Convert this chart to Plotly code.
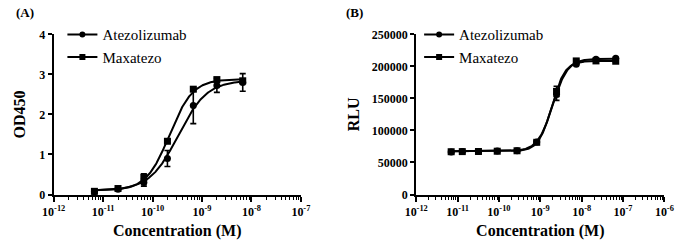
import numpy as np
import plotly.graph_objects as go

# ---------------- Data ----------------
# Panel A (ELISA binding, OD450)
conc_a = [6.67e-12, 2.0e-11, 6.67e-11, 2.0e-10, 6.67e-10, 2.0e-9, 6.67e-9]
ate_a = [0.07, 0.13, 0.30, 0.90, 2.22, 2.72, 2.80]
ate_a_err = [0.02, 0.03, 0.09, 0.20, 0.45, 0.17, 0.22]
max_a = [0.08, 0.15, 0.43, 1.33, 2.63, 2.87, 2.84]
max_a_err = [0.02, 0.03, 0.09, 0.04, 0.05, 0.04, 0.04]
# 4PL fit parameters: bottom, top, EC50, hill
fit_ate_a = [0.10, 2.85, 3.3e-10, 1.5]
fit_max_a = [0.10, 2.88, 2.2e-10, 1.85]

# Panel B (reporter assay, RLU)
conc_b = [7.0e-12, 1.3e-11, 3.2e-11, 9.1e-11, 2.74e-10, 8.2e-10, 2.47e-9, 7.4e-9, 2.22e-8, 6.67e-8]
ate_b = [66500, 67200, 67300, 67800, 68500, 82000, 156000, 203500, 211000, 212500]
ate_b_err = [1200, 1000, 1000, 1000, 1000, 1500, 9000, 2000, 1500, 1500]
max_b = [66800, 67000, 67200, 67600, 68300, 81500, 161000, 208500, 208500, 208000]
max_b_err = [1200, 1000, 1000, 1000, 1000, 1500, 8000, 2000, 1500, 1500]
fit_ate_b = [67500, 212000, 2.0e-9, 2.4]
fit_max_b = [67500, 208500, 1.9e-9, 2.7]

xt_a = [1e-12, 1e-11, 1e-10, 1e-9, 1e-8, 1e-7]
xt_b = [1e-12, 1e-11, 1e-10, 1e-9, 1e-8, 1e-7, 1e-6]
yt_a = [0, 1, 2, 3, 4]
yt_b = [0, 50000, 100000, 150000, 200000, 250000]


def four_pl(x, p):
    bottom, top, ec50, hill = p
    x = np.asarray(x)
    return bottom + (top - bottom) / (1 + (ec50 / x) ** hill)


def exp_label(v):
    return "<b>10<sup>%d</sup></b>" % int(round(np.log10(v)))


SERIF = "Liberation Serif"
W, H = 685, 243

fig = go.Figure()

panels = [
    ("x", "y", "legend", conc_a, [("Atezolizumab", "circle", ate_a, ate_a_err, fit_ate_a),
                                   ("Maxatezo", "square", max_a, max_a_err, fit_max_a)]),
    ("x2", "y2", "legend2", conc_b, [("Atezolizumab", "circle", ate_b, ate_b_err, fit_ate_b),
                                      ("Maxatezo", "square", max_b, max_b_err, fit_max_b)]),
]

for xa, ya, lg, conc, series in panels:
    for i, (name, sym, vals, errs, fit) in enumerate(series):
        grp = f"{lg}_{i}"
        xs = np.logspace(np.log10(conc[0]), np.log10(conc[-1]), 300)
        fig.add_trace(go.Scatter(
            x=xs, y=four_pl(xs, fit), mode="lines", xaxis=xa, yaxis=ya,
            line=dict(color="black", width=2), showlegend=False, legendgroup=grp,
            hoverinfo="skip", cliponaxis=False))
        fig.add_trace(go.Scatter(
            x=conc, y=vals, mode="markers", xaxis=xa, yaxis=ya,
            marker=dict(symbol=sym, size=7, color="black"),
            error_y=dict(type="data", array=errs, visible=True, color="black",
                         thickness=1.6, width=3),
            showlegend=False, legendgroup=grp, cliponaxis=False))
        fig.add_trace(go.Scatter(
            x=[None], y=[None], mode="lines+markers", xaxis=xa, yaxis=ya,
            name=name, legend=lg, legendgroup=grp,
            marker=dict(symbol=sym, size=6, color="black"),
            line=dict(color="black", width=2)))

px_x = lambda p: p / W
px_y = lambda p: 1 - p / H

tickfont = dict(family=SERIF, size=12, color="black")
titlefont = dict(family=SERIF, size=16, color="black")

common_x = dict(type="log", showgrid=False, zeroline=False, showline=True,
                linecolor="black", linewidth=2, ticks="outside", ticklen=5,
                tickwidth=2, tickcolor="black", tickfont=tickfont,
                minor=dict(ticks="outside", ticklen=3, tickwidth=1, tickcolor="black",
                           dtick="D1", showgrid=False),
                title=dict(text="<b>Concentration (M)</b>", font=titlefont, standoff=7))
common_y = dict(showgrid=False, zeroline=False, showline=True, linecolor="black",
                linewidth=2, ticks="outside", ticklen=4, tickwidth=2, tickcolor="black",
                tickfont=tickfont)

fig.update_layout(
    width=W, height=H, margin=dict(l=0, r=0, t=0, b=0),
    paper_bgcolor="white", plot_bgcolor="white",
    xaxis=dict(common_x, domain=[px_x(43), px_x(298)], range=[-12, -7],
               tickvals=xt_a, ticktext=[exp_label(v) for v in xt_a], anchor="y"),
    yaxis=dict(common_y, domain=[px_y(199), px_y(29)], range=[0, 4],
               tickvals=yt_a, ticktext=["<b>%d</b>" % v for v in yt_a], anchor="x",
               title=dict(text="<b>OD450</b>", font=titlefont, standoff=10)),
    xaxis2=dict(common_x, domain=[px_x(417), px_x(673)], range=[-12, -6],
                tickvals=xt_b, ticktext=[exp_label(v) for v in xt_b], anchor="y2"),
    yaxis2=dict(common_y, domain=[px_y(199), px_y(29)], range=[0, 250000],
                tickvals=yt_b, ticktext=["<b>%d</b>" % v for v in yt_b], anchor="x2",
                title=dict(text="<b>RLU</b>", font=titlefont, standoff=8)),
    legend=dict(x=px_x(52), y=px_y(12), xanchor="left", yanchor="top",
                font=dict(family=SERIF, size=15, color="black"),
                bgcolor="rgba(0,0,0,0)", traceorder="grouped", tracegroupgap=0,
                itemwidth=30),
    legend2=dict(x=px_x(420), y=px_y(12), xanchor="left", yanchor="top",
                 font=dict(family=SERIF, size=15, color="black"),
                 bgcolor="rgba(0,0,0,0)", traceorder="grouped", tracegroupgap=0,
                 itemwidth=30),
    annotations=[
        dict(text="<b>(A)</b>", x=px_x(2), y=1 + 4 / H, xref="paper", yref="paper",
             xanchor="left", yanchor="top", showarrow=False,
             font=dict(family=SERIF, size=13, color="black")),
        dict(text="<b>(B)</b>", x=px_x(343), y=1 + 4 / H, xref="paper", yref="paper",
             xanchor="left", yanchor="top", showarrow=False,
             font=dict(family=SERIF, size=13, color="black")),
    ],
)

fig.write_html("out.html")
